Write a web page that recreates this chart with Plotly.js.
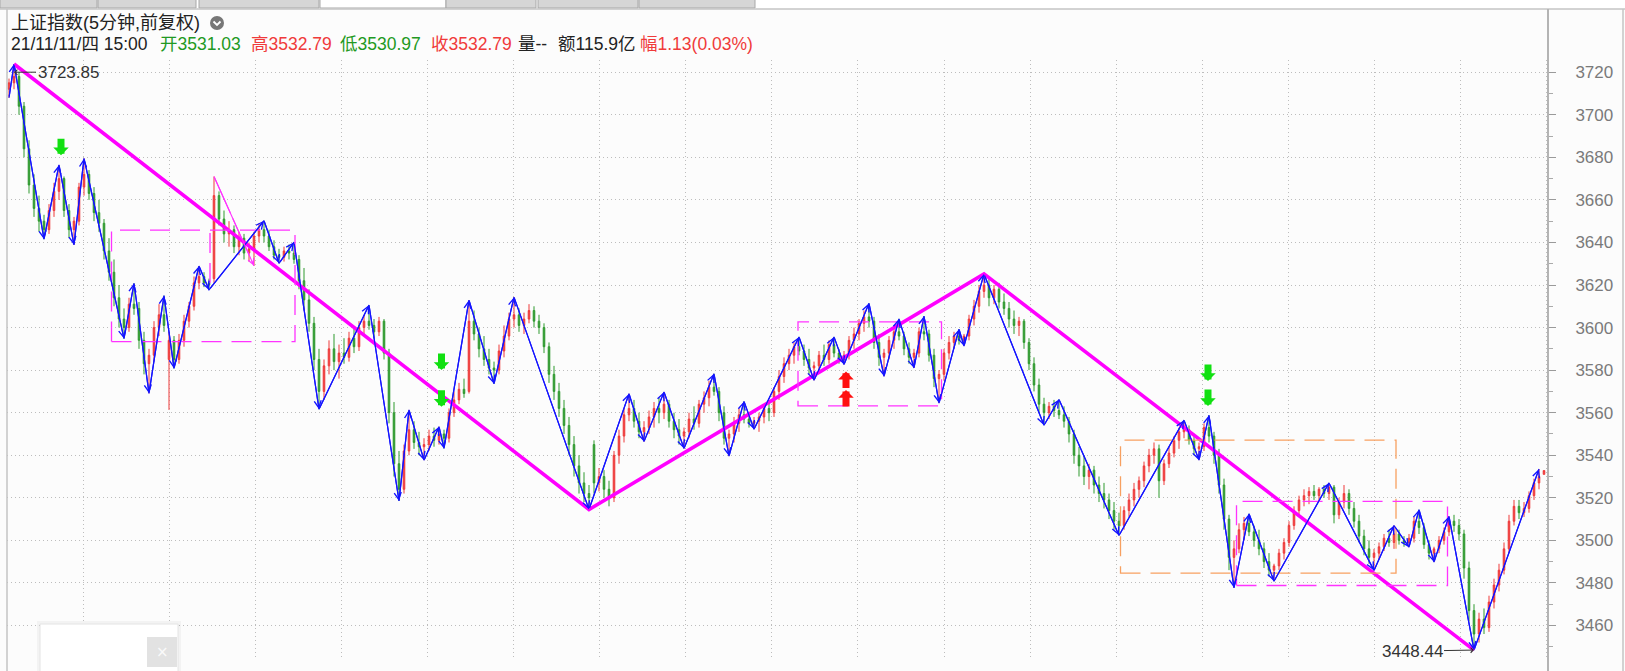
<!DOCTYPE html>
<html><head><meta charset="utf-8">
<script src="https://cdn.plot.ly/plotly-3.0.1.min.js"></script>
<style>html,body{margin:0;padding:0;background:#fcfcfc;overflow:hidden}#chart{width:1625px;height:671px}</style>
</head><body><div id="chart"></div>
<script>
// ---- 5-minute bars (index) ----
const openP = [
3712,3715,3718,3704,3684,3667,3656,3650,3646,3655,
3664,3670,3655,3646,3650,3666,3672,3663,3654,3649,
3636,3626,3614,3604,3600,3611,3609,3594,3583,3587,
3600,3606,3585,3594,3585,3594,3603,3610,3621,3624,
3621,3623,3662,3651,3644,3646,3638,3642,3635,3637,
3643,3646,3643,3638,3634,3633,3636,3635,3632,3622,
3613,3602,3585,3570,3582,3590,3584,3588,3586,3595,
3591,3600,3603,3601,3598,3603,3588,3560,3536,3524,
3542,3552,3546,3544,3545,3549,3547,3550,3548,3560,
3566,3571,3570,3603,3597,3590,3585,3581,3580,3589,
3596,3604,3606,3601,3604,3608,3603,3600,3591,3578,
3570,3562,3554,3545,3535,3527,3522,3545,3527,3530,
3524,3520,3540,3549,3559,3562,3556,3551,3553,3558,
3562,3560,3564,3556,3552,3549,3551,3557,3555,3564,
3567,3572,3570,3560,3548,3550,3555,3559,3557,3555,
3556,3558,3562,3560,3570,3577,3583,3587,3591,3589,
3585,3581,3582,3587,3585,3592,3588,3585,3587,3594,
3597,3602,3605,3603,3593,3586,3588,3594,3598,3596,
3590,3586,3588,3598,3597,3587,3576,3578,3588,3593,
3596,3594,3596,3604,3610,3617,3620,3614,3618,3612,
3609,3604,3601,3603,3593,3583,3573,3564,3560,3563,
3561,3559,3556,3550,3540,3535,3530,3533,3526,3522,
3519,3514,3509,3507,3514,3519,3524,3528,3535,3540,
3543,3528,3536,3541,3547,3551,3552,3547,3543,3544,
3553,3549,3540,3526,3510,3492,3496,3505,3508,3504,
3500,3496,3490,3486,3488,3494,3499,3507,3514,3519,
3521,3523,3521,3524,3522,3525,3512,3518,3522,3515,
3509,3502,3496,3492,3494,3497,3501,3499,3503,3500,
3499,3501,3509,3506,3498,3494,3496,3500,3504,3509,
3507,3503,3487,3467,3456,3463,3459,3471,3479,3486,
3496,3509,3516,3513,3515,3521,3527,3531.03];
const highP = [
3717,3723.85,3720,3706,3688,3672,3662,3653,3658,3668,
3676.4,3671,3658,3652,3668,3679.5,3674,3666,3660,3651,
3642,3632,3620,3609,3614,3620.8,3612,3598,3590,3603,
3611,3615,3598,3596,3597,3606,3612,3624,3628.9,3626,
3623,3671,3664,3655,3650,3648,3645,3644,3640,3645,
3649,3650.2,3646,3641,3637,3638,3639,3640.1,3634,3628,
3618,3605,3590,3585,3594,3597,3592,3595,3598,3600,
3603,3606,3610.6,3604,3605,3604,3590,3565,3542,3545,
3561.3,3556,3551,3548,3552,3553,3553.4,3552,3562,3570,
3574,3576,3612.9,3608,3600,3596,3590,3584,3592,3601,
3607,3614.3,3609,3607,3611,3610,3606,3602,3593,3582,
3574,3566,3558,3549,3540,3532,3526,3547,3534,3533,
3528,3542,3552,3562,3568.9,3566,3560,3556,3561,3565,
3567,3569.7,3566,3560,3557,3553,3560,3563,3566,3570,
3575,3578.3,3572,3563,3552,3558,3562,3565.3,3560,3558,
3560,3564,3566,3572,3580,3586,3590,3593,3595.6,3592,
3590,3584,3589,3592,3594,3595.6,3590,3589,3596,3600,
3604,3608,3611.4,3605,3597,3590,3596,3601,3604.1,3598,
3593,3590,3600,3605.4,3599,3590,3580,3590,3596,3598,
3599.2,3597,3606,3613,3620,3625.2,3623,3620,3621,3616,
3612,3608,3605,3604,3595,3586,3576,3567,3565,3566,
3566.2,3563,3558,3552,3544,3540,3536,3535,3530,3527,
3522,3518,3513,3516,3522,3527,3530,3537,3543,3546,
3545,3538,3544,3549,3553,3556.5,3554,3550,3546,3555,
3558.8,3551,3543,3529,3512,3500,3508,3511,3512.5,3507,
3505,3499,3494,3489,3496,3501,3509,3516,3521,3524,
3525,3526,3525,3526,3527,3526,3520,3526,3524,3518,
3512,3505,3500,3496,3499,3503,3505,3507,3505,3502,
3503,3511,3514.4,3508,3500,3497,3502,3506,3511.3,3512,
3510,3505,3490,3470,3466,3468,3474,3482,3489,3499,
3512,3519,3519,3518,3523,3529,3533.5,3532.79];
const lowP = [
3708,3712,3700,3680,3663,3652,3645,3641.5,3644,3652,
3660,3652,3642,3638.8,3648,3662,3660,3650,3645,3632,
3622,3610,3600,3594.8,3598,3606,3590,3578,3569.1,3584,
3596,3598,3561.3,3580.8,3583,3591,3600,3608,3618,3619,
3617.7,3621,3648,3640,3638,3635,3634,3632,3631,3629,
3640,3640,3636,3632,3630.2,3631,3632,3630,3618,3608,
3598,3580,3561.6,3566,3578,3580,3576,3583,3584,3588,
3589,3596,3599,3595,3596,3585,3555,3530,3518.5,3522,
3540,3543,3540,3537.7,3542,3544,3545,3543.2,3546,3558,
3564,3567,3569,3594,3586,3582,3578,3573.6,3578,3586,
3594,3600,3598,3597,3602,3600,3597,3588,3574,3566,
3558,3550,3540,3530,3522,3518,3514.5,3522,3523,3520,
3516,3518,3536,3546,3556,3553,3548,3546.4,3550,3553,
3555,3557,3553,3548,3545,3543.2,3548,3552,3553,3560,
3563,3568,3556,3545,3539.6,3546,3551,3555,3553,3552.2,
3551,3555,3556,3558,3566,3574,3580,3583,3587,3582,
3578,3575.2,3579,3582,3583,3586,3583,3582.6,3585,3590,
3594,3598,3600,3590,3582,3577.1,3585,3590,3594,3587,
3583,3581,3586,3594,3584,3572,3564.5,3575,3585,3590,
3592,3591.3,3594,3601,3607,3614,3610,3611,3609,3606,
3600,3597,3596,3590,3580,3570,3560,3554.1,3557,3558,
3557,3553,3546,3536,3530,3526,3524,3522,3518,3515,
3510,3505,3502.3,3505,3511,3516,3520,3525,3532,3536,
3520,3526,3534,3539,3543,3548,3545,3540,3537.7,3542,
3546,3536,3522,3505,3486,3477.7,3494,3500,3502,3497,
3493,3487,3483,3480.8,3486,3491,3497,3505,3511,3516,
3517,3519,3518,3520,3519,3508,3510,3515,3512,3506,
3499,3493,3489,3485.8,3491,3495,3497,3496,3498,3497,
3496.8,3499,3503,3496,3491,3489.8,3494,3498,3502,3504,
3500,3482,3462,3448.44,3452,3456,3457,3468,3476,3484,
3494,3507,3510,3511,3513,3519,3524,3530.97];
const closeP = [
3715,3718,3704,3684,3667,3656,3650,3646,3655,3664,
3670,3655,3646,3650,3666,3672,3663,3654,3649,3636,
3626,3614,3604,3600,3611,3609,3594,3583,3587,3600,
3606,3601,3594,3585,3594,3603,3610,3621,3624,3621,
3620,3662,3651,3644,3646,3638,3642,3635,3637,3643,
3646,3643,3638,3634,3633,3636,3635,3632,3622,3613,
3602,3585,3570,3582,3590,3584,3588,3586,3595,3591,
3600,3603,3601,3598,3603,3588,3560,3536,3524,3542,
3552,3546,3544,3545,3549,3547,3550,3548,3560,3566,
3571,3569,3603,3597,3590,3585,3581,3580,3589,3596,
3604,3606,3601,3604,3608,3603,3600,3591,3578,3570,
3562,3554,3545,3535,3527,3522,3520,3527,3530,3524,
3520,3540,3549,3559,3562,3556,3551,3553,3558,3562,
3560,3564,3556,3552,3549,3551,3557,3555,3564,3567,
3572,3570,3560,3548,3550,3555,3559,3557,3555,3556,
3558,3562,3560,3570,3577,3583,3587,3591,3589,3585,
3581,3582,3587,3585,3592,3588,3585,3587,3594,3597,
3602,3605,3603,3593,3586,3588,3594,3598,3596,3590,
3586,3588,3598,3597,3587,3576,3578,3588,3593,3596,
3594,3596,3604,3610,3617,3620,3614,3618,3612,3609,
3604,3601,3603,3593,3583,3573,3564,3560,3563,3561,
3559,3556,3550,3540,3535,3530,3533,3526,3522,3519,
3514,3509,3507,3514,3519,3524,3528,3535,3540,3543,
3528,3536,3541,3547,3551,3552,3547,3543,3544,3553,
3549,3540,3526,3510,3492,3496,3505,3508,3504,3500,
3496,3490,3486,3488,3494,3499,3507,3514,3519,3521,
3523,3521,3524,3522,3525,3512,3518,3522,3515,3509,
3502,3496,3492,3494,3497,3501,3499,3503,3500,3499,
3501,3509,3506,3498,3494,3496,3500,3504,3509,3507,
3503,3487,3467,3456,3463,3459,3471,3479,3486,3496,
3509,3516,3513,3515,3521,3527,3530,3532.79];

// ---- strokes (笔): pivot bar index and price ----
const biIdx = [0,1,7,10,13,15,23,25,28,31,33,38,40,51,54,57,62,72,78,80,83,86,87,92,97,101,116,124,127,131,135,141,144,147,149,158,161,165,167,172,175,178,181,183,186,190,191,195,207,210,222,235,238,240,245,248,253,264,273,277,280,282,285,288,293,306];
const biVal = [3708,3723.85,3641.5,3676.4,3638.8,3679.5,3594.8,3620.8,3569.1,3615,3580.8,3628.9,3617.7,3650.2,3630.2,3640.1,3561.6,3610.6,3518.5,3561.3,3537.7,3553.4,3543.2,3612.9,3573.6,3614.3,3514.5,3568.9,3546.4,3569.7,3543.2,3578.3,3539.6,3565.3,3552.2,3595.6,3575.2,3595.6,3582.6,3611.4,3577.1,3604.1,3581,3605.4,3564.5,3599.2,3591.3,3625.2,3554.1,3566.2,3502.3,3556.5,3537.7,3558.8,3477.7,3512.5,3480.8,3527,3485.8,3507,3496.8,3514.4,3489.8,3511.3,3448.44,3533.5];
// ---- segments (线段) ----
const segIdx = [1,116,195,293];
const segVal = [3723.85,3514.5,3625.2,3448.44];
// ---- secondary thin stroke ----
const thinIdx = [41,49];
const thinVal = [3671,3629];
// ---- pivot zones (中枢): x0,x1 (bar index), low, high ----
const zoneX0 = [20.5,157.8,222.3,245.5];
const zoneX1 = [57.2,186.5,277.4,287.7];
const zoneLo = [3593.4,3563.2,3484.6,3478.8];
const zoneHi = [3645.8,3602.7,3547.1,3518.3];
const zoneCol = ['#ff33ff','#ff33ff','#f7a060','#ff33ff'];
const partialZone = {x:40.2, lo:3620.9, hi:3645.8};
// ---- signal arrows (tip positions) ----
const sellIdx = [10.4,86.5,86.5,239.8,239.8];
const sellVal = [3681,3580,3562.8,3574.9,3563.1];
const buyIdx = [167.4,167.4];
const buyVal = [3579.3,3570.7];
// ---- extremes ----
const hiMark = {idx:1, val:3720, label:'3723.85'};
const loMark = {idx:293, val:3448.44, label:'3448.44'};
// ---- header ----
const titleText = '上证指数(5分钟,前复权)';
const infoParts = [
  {t:'21/11/11/四 15:00', x:9,   c:'#222222'},
  {t:'开3531.03',         x:158, c:'#229922'},
  {t:'高3532.79',         x:249, c:'#f03a3a'},
  {t:'低3530.97',         x:338, c:'#229922'},
  {t:'收3532.79',         x:429, c:'#f03a3a'},
  {t:'量--',              x:516, c:'#222222'},
  {t:'额115.9亿',         x:556, c:'#222222'},
  {t:'幅1.13(0.03%)',     x:638, c:'#f03a3a'}
];
const yTickStart = 3460, yTickStep = 20;

// ---- layout geometry (pixels) ----
const L=7, R=1548, T=60, B=660;
const fx = p => (p-L)/(R-L);
const fy = p => (B-p)/(B-T);
const N = Math.min(openP.length, highP.length, lowP.length, closeP.length);
const idx = Array.from({length:N}, (_,i)=>i);

const traces = [
  {type:'candlestick', x:idx, open:openP.slice(0,N), high:highP.slice(0,N), low:lowP.slice(0,N), close:closeP.slice(0,N),
   increasing:{line:{color:'#ee3b3b',width:1}, fillcolor:'#ee3b3b'},
   decreasing:{line:{color:'#2f9a2f',width:1}, fillcolor:'#2f9a2f'},
   whiskerwidth:0, hoverinfo:'skip', showlegend:false},
  {type:'scatter', mode:'lines', x:biIdx, y:biVal, line:{color:'#1414ff', width:1.2}, hoverinfo:'skip', showlegend:false},
  {type:'scatter', mode:'lines', x:thinIdx, y:thinVal, line:{color:'#ff33ff', width:1.1, dash:'40px,6px'}, hoverinfo:'skip', showlegend:false},
  {type:'scatter', mode:'lines', x:segIdx, y:segVal, line:{color:'#ff00ff', width:3.6}, hoverinfo:'skip', showlegend:false}
];

const annotations = [];
for (let k=1;k<biIdx.length;k++){
  annotations.push({x:biIdx[k], y:biVal[k], ax:biIdx[k-1], ay:biVal[k-1], xref:'x', yref:'y', axref:'x', ayref:'y',
    text:'', showarrow:true, arrowhead:5, arrowsize:1.15, arrowwidth:1.2, arrowcolor:'#1414ff', font:{size:1}});
}
annotations.push({x:thinIdx[1], y:thinVal[1], ax:thinIdx[0], ay:thinVal[0], xref:'x', yref:'y', axref:'x', ayref:'y',
  text:'', showarrow:true, arrowhead:5, arrowsize:1.1, arrowwidth:1.1, arrowcolor:'#ff33ff', font:{size:1}});
for (let k=0;k<sellIdx.length;k++){
  annotations.push({x:sellIdx[k], y:sellVal[k], ax:0, ay:-18, xref:'x', yref:'y', text:'', showarrow:true,
    arrowhead:1, arrowsize:0.37, arrowwidth:7, arrowcolor:'#11e011', font:{size:1}});
}
for (let k=0;k<buyIdx.length;k++){
  annotations.push({x:buyIdx[k], y:buyVal[k], ax:0, ay:18, xref:'x', yref:'y', text:'', showarrow:true,
    arrowhead:1, arrowsize:0.37, arrowwidth:7, arrowcolor:'#ff1010', font:{size:1}});
}
annotations.push({x:hiMark.idx, y:hiMark.val, ax:54, ay:0, xref:'x', yref:'y', text:hiMark.label, showarrow:true,
  arrowhead:4, arrowsize:1, arrowwidth:1, arrowcolor:'#333', font:{family:'Liberation Sans, Arial, sans-serif', size:17, color:'#333'}});
annotations.push({x:loMark.idx, y:loMark.val, ax:-62, ay:1, xref:'x', yref:'y', text:loMark.label, showarrow:true,
  arrowhead:4, arrowsize:1, arrowwidth:1, arrowcolor:'#333', font:{family:'Liberation Sans, Arial, sans-serif', size:17, color:'#333'}});
// header texts
annotations.push({xref:'paper', yref:'paper', x:fx(9), y:fy(23), xanchor:'left', yanchor:'middle', showarrow:false,
  text:titleText, font:{family:'Liberation Sans, Noto Sans CJK SC, sans-serif', size:18, color:'#222'}});
infoParts.forEach(p=>annotations.push({xref:'paper', yref:'paper', x:fx(p.x), y:fy(44), xanchor:'left', yanchor:'middle', showarrow:false,
  text:p.t, font:{family:'Liberation Sans, Noto Sans CJK SC, sans-serif', size:17.5, color:p.c}}));
// popup close mark
annotations.push({xref:'paper', yref:'paper', x:fx(162), y:fy(652), xanchor:'center', yanchor:'middle', showarrow:false,
  text:'×', font:{family:'DejaVu Sans, sans-serif', size:15, color:'#fafafa'}});

const shapes = [];
for (let k=0;k<zoneX0.length;k++){
  shapes.push({type:'rect', xref:'x', yref:'y', x0:zoneX0[k], x1:zoneX1[k], y0:zoneLo[k], y1:zoneHi[k],
    line:{color:zoneCol[k], width:1.3, dash:'20px,10px'}, fillcolor:'rgba(0,0,0,0)'});
}
shapes.push({type:'line', xref:'x', yref:'y', x0:partialZone.x, x1:partialZone.x, y0:partialZone.lo, y1:partialZone.hi,
  line:{color:'#ff33ff', width:1.3, dash:'20px,10px'}});
// window chrome: tab strip, borders, info icon, popup
const tabs = [[0,97,'#d6d6d6'],[98,196,'#d6d6d6'],[199,319,'#d6d6d6'],[320,446,'#ffffff'],[446,536,'#d6d6d6'],[538,638,'#d6d6d6'],[639,755,'#d6d6d6']];
shapes.push({type:'rect', xref:'paper', yref:'paper', x0:fx(-5), x1:fx(1630), y0:fy(9), y1:fy(-5), fillcolor:'#ffffff', line:{width:0}, layer:'below'});
tabs.forEach(t=>shapes.push({type:'rect', xref:'paper', yref:'paper', x0:fx(t[0]), x1:fx(t[1]), y0:fy(8), y1:fy(-3),
  fillcolor:t[2], line:{color:'#a8a8a8', width:1}}));
shapes.push({type:'line', xref:'paper', yref:'paper', x0:fx(0), x1:fx(1625), y0:fy(9), y1:fy(9), line:{color:'#c4c4c4', width:1.5}});
shapes.push({type:'line', xref:'paper', yref:'paper', x0:fx(7), x1:fx(7), y0:fy(9), y1:fy(675), line:{color:'#c4c4c4', width:1.5}});
shapes.push({type:'line', xref:'paper', yref:'paper', x0:fx(1548), x1:fx(1548), y0:fy(9), y1:fy(675), line:{color:'#b4b4b4', width:2}});
shapes.push({type:'line', xref:'paper', yref:'paper', x0:fx(1623), x1:fx(1623), y0:fy(9), y1:fy(675), line:{color:'#c4c4c4', width:1.5}});
shapes.push({type:'circle', xref:'paper', yref:'paper', x0:fx(210), x1:fx(224), y0:fy(30), y1:fy(16), fillcolor:'#777', line:{width:0}});
shapes.push({type:'path', xref:'paper', yref:'paper',
  path:`M ${fx(213.5)} ${fy(21.5)} L ${fx(217)} ${fy(25)} L ${fx(220.5)} ${fy(21.5)}`, line:{color:'#fff', width:1.8}});
shapes.push({type:'rect', xref:'paper', yref:'paper', x0:fx(37), x1:fx(181), y0:fy(680), y1:fy(621), fillcolor:'rgba(0,0,0,0.035)', line:{width:0}});
shapes.push({type:'rect', xref:'paper', yref:'paper', x0:fx(40), x1:fx(178), y0:fy(680), y1:fy(624), fillcolor:'#ffffff', line:{color:'#e4e4e4', width:1}});
shapes.push({type:'rect', xref:'paper', yref:'paper', x0:fx(147), x1:fx(177), y0:fy(667), y1:fy(637), fillcolor:'#e2e2e2', line:{width:0}});

const layout = {
  width:1625, height:671,
  margin:{l:L, r:1625-R, t:T, b:671-B, pad:0},
  paper_bgcolor:'#fcfcfc', plot_bgcolor:'#fcfcfc',
  showlegend:false, hovermode:false, dragmode:false, boxgap:0.55,
  xaxis:{range:[-0.4,307.8], type:'linear', showticklabels:false, ticks:'', zeroline:false, showline:false,
    showgrid:true, gridcolor:'#bdbdbd', griddash:'1px,3px', gridwidth:1, tick0:14.8, dtick:17.22, tickmode:'linear',
    rangeslider:{visible:false}, fixedrange:true},
  yaxis:{side:'right', range:[3443.78,3725.73], tickmode:'linear', tick0:yTickStart, dtick:yTickStep,
    ticks:'outside', ticklen:7, tickwidth:1, tickcolor:'#9a9a9a', ticklabelstandoff:16,
    minor:{ticks:'outside', ticklen:4, tickwidth:1, tickcolor:'#aaaaaa', dtick:10, tick0:3450, showgrid:false},
    tickfont:{family:'Liberation Sans, Arial, sans-serif', size:17, color:'#7a7a7a'},
    showgrid:true, gridcolor:'#bdbdbd', griddash:'1px,3px', gridwidth:1, zeroline:false, showline:false, fixedrange:true},
  annotations:annotations, shapes:shapes
};
Plotly.newPlot('chart', traces, layout, {displayModeBar:false, staticPlot:true});
</script></body></html>
